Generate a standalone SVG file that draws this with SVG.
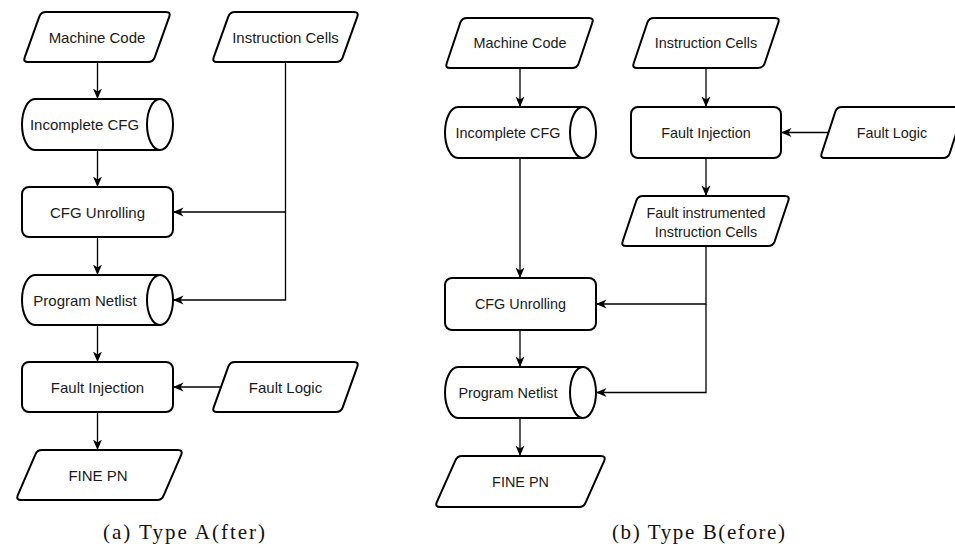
<svg xmlns="http://www.w3.org/2000/svg" width="955" height="548" viewBox="0 0 955 548">
  <defs>
    <marker id="arr" markerUnits="userSpaceOnUse" markerWidth="11" markerHeight="10" viewBox="0 0 11 10" refX="10.5" refY="5" orient="auto">
      <path d="M10.5,5 L0,0.5 L3,5 L0,9.5 Z" fill="#000"/>
    </marker>
  </defs>
  <style>
    .shape { fill: #fff; stroke: #000; stroke-width: 2; stroke-linejoin: round; }
    .inner { fill: none; stroke: #000; stroke-width: 2; }
    .lbl { font-family: "Liberation Sans", Arial, sans-serif; font-size: 15px; fill: #1a1a1a; text-anchor: middle; dominant-baseline: central; }
    .lblb { font-family: "Liberation Sans", Arial, sans-serif; font-size: 14.4px; fill: #1a1a1a; text-anchor: middle; dominant-baseline: central; }
    .edge { fill: none; stroke: #000; stroke-width: 1.3; marker-end: url(#arr); }
    .cap { font-family: "Liberation Serif", "Times New Roman", serif; font-size: 21px; fill: #111; text-anchor: middle; }
  </style>

  <rect width="955" height="548" fill="#fff"/>

  <!-- ===== (a) Type A(fter) ===== -->
  <g id="a-machine-code">
    <path class="shape" d="M46,12 L166,12 Q171,12 169.3,16.7 L154.7,57.3 Q153,62 148,62 L28,62 Q23,62 24.7,57.3 L39.3,16.7 Q41,12 46,12 Z"/>
    <text class="lbl" x="97" y="37">Machine Code</text>
  </g>
  <g id="a-instruction-cells">
    <path class="shape" d="M235,12 L354,12 Q359,12 357.3,16.7 L342.7,57.3 Q341,62 336,62 L217,62 Q212,62 213.7,57.3 L228.3,16.7 Q230,12 235,12 Z"/>
    <text class="lbl" x="285.5" y="37">Instruction Cells</text>
  </g>
  <g id="a-incomplete-cfg">
    <path class="shape" d="M35,99 L160,99 A13,25.5 0 0 1 160,150 L35,150 A13,25.5 0 0 1 35,99 Z"/>
    <path class="inner" d="M160,99 A13,25.5 0 0 0 160,150"/>
    <text class="lbl" x="84.5" y="124.5">Incomplete CFG</text>
  </g>
  <g id="a-cfg-unrolling">
    <rect class="shape" x="22" y="187" width="151" height="50" rx="7"/>
    <text class="lbl" x="97.5" y="212">CFG Unrolling</text>
  </g>
  <g id="a-program-netlist">
    <path class="shape" d="M35,275 L160,275 A13,25 0 0 1 160,325 L35,325 A13,25 0 0 1 35,275 Z"/>
    <path class="inner" d="M160,275 A13,25 0 0 0 160,325"/>
    <text class="lbl" x="85" y="300">Program Netlist</text>
  </g>
  <g id="a-fault-injection">
    <rect class="shape" x="22" y="362" width="151" height="50" rx="7"/>
    <text class="lbl" x="97.5" y="387">Fault Injection</text>
  </g>
  <g id="a-fault-logic">
    <path class="shape" d="M235,362 L354,362 Q359,362 357.3,366.7 L342.7,407.3 Q341,412 336,412 L217,412 Q212,412 213.7,407.3 L228.3,366.7 Q230,362 235,362 Z"/>
    <text class="lbl" x="285.5" y="387">Fault Logic</text>
  </g>
  <g id="a-fine-pn">
    <path class="shape" d="M42,450 L178,450 Q183,450 181.3,454.7 L163.7,495.3 Q162,500 157,500 L21,500 Q16,500 17.7,495.3 L35.3,454.7 Q37,450 42,450 Z"/>
    <text class="lbl" x="98" y="475">FINE PN</text>
  </g>

  <g id="a-connectors">
    <path class="edge" d="M97.5,62 V99"/>
    <path class="edge" d="M97.5,150 V187"/>
    <path class="edge" d="M97.5,237 V275"/>
    <path class="edge" d="M97.5,325 V362"/>
    <path class="edge" d="M97.5,412 V450"/>
    <path class="edge" d="M285.5,62 V212 H173"/>
    <path class="edge" d="M285.5,212 V300 H173"/>
    <path class="edge" d="M221,387 H173"/>
  </g>

  <text class="cap" x="184" y="539" textLength="162" lengthAdjust="spacing">(a) Type A(fter)</text>

  <!-- ===== (b) Type B(efore) ===== -->
  <g id="b-machine-code">
    <path class="shape" d="M467,18 L589,18 Q594,18 592.3,22.7 L578.7,63.3 Q577,68 572,68 L450,68 Q445,68 446.7,63.3 L460.3,22.7 Q462,18 467,18 Z"/>
    <text class="lblb" x="520" y="43">Machine Code</text>
  </g>
  <g id="b-instruction-cells">
    <path class="shape" d="M654,18 L775,18 Q780,18 778.3,22.7 L764.7,63.3 Q763,68 758,68 L637,68 Q632,68 633.7,63.3 L647.3,22.7 Q649,18 654,18 Z"/>
    <text class="lblb" x="706" y="43">Instruction Cells</text>
  </g>
  <g id="b-incomplete-cfg">
    <path class="shape" d="M458,107 L583,107 A13,25.5 0 0 1 583,158 L458,158 A13,25.5 0 0 1 458,107 Z"/>
    <path class="inner" d="M583,107 A13,25.5 0 0 0 583,158"/>
    <text class="lblb" x="508" y="132.5">Incomplete CFG</text>
  </g>
  <g id="b-fault-injection">
    <rect class="shape" x="631" y="107" width="150" height="51" rx="7"/>
    <text class="lblb" x="706" y="132.5">Fault Injection</text>
  </g>
  <g id="b-fault-logic">
    <path class="shape" d="M842,107 L960,107 Q965,107 963.3,111.7 L949.7,153.3 Q948,158 943,158 L825,158 Q820,158 821.7,153.3 L835.3,111.7 Q837,107 842,107 Z"/>
    <text class="lblb" x="892" y="132.5">Fault Logic</text>
  </g>
  <g id="b-fault-instrumented">
    <path class="shape" d="M643,196 L785,196 Q790,196 788.3,200.7 L774.7,241.3 Q773,246 768,246 L626,246 Q621,246 622.7,241.3 L636.3,200.7 Q638,196 643,196 Z"/>
    <text class="lblb" x="706" y="212.5">Fault instrumented</text>
    <text class="lblb" x="706" y="231.5">Instruction Cells</text>
  </g>
  <g id="b-cfg-unrolling">
    <rect class="shape" x="445" y="278" width="151" height="52" rx="7"/>
    <text class="lblb" x="520.5" y="304">CFG Unrolling</text>
  </g>
  <g id="b-program-netlist">
    <path class="shape" d="M458,367 L583,367 A13,25.5 0 0 1 583,418 L458,418 A13,25.5 0 0 1 458,367 Z"/>
    <path class="inner" d="M583,367 A13,25.5 0 0 0 583,418"/>
    <text class="lblb" x="508" y="392.5">Program Netlist</text>
  </g>
  <g id="b-fine-pn">
    <path class="shape" d="M462,456 L601,456 Q606,456 604.3,460.7 L585.7,502.3 Q584,507 579,507 L440,507 Q435,507 436.7,502.3 L455.3,460.7 Q457,456 462,456 Z"/>
    <text class="lblb" x="520.5" y="481.5">FINE PN</text>
  </g>

  <g id="b-connectors">
    <path class="edge" d="M520,68 V107"/>
    <path class="edge" d="M520,158 V278"/>
    <path class="edge" d="M520,330 V367"/>
    <path class="edge" d="M520,418 V456"/>
    <path class="edge" d="M706,68 V107"/>
    <path class="edge" d="M706,158 V196"/>
    <path class="edge" d="M829,132.5 H781"/>
    <path class="edge" d="M706,246 V304 H596"/>
    <path class="edge" d="M706,304 V392.5 H596"/>
  </g>

  <text class="cap" x="698.5" y="539" textLength="173" lengthAdjust="spacing">(b) Type B(efore)</text>
</svg>
